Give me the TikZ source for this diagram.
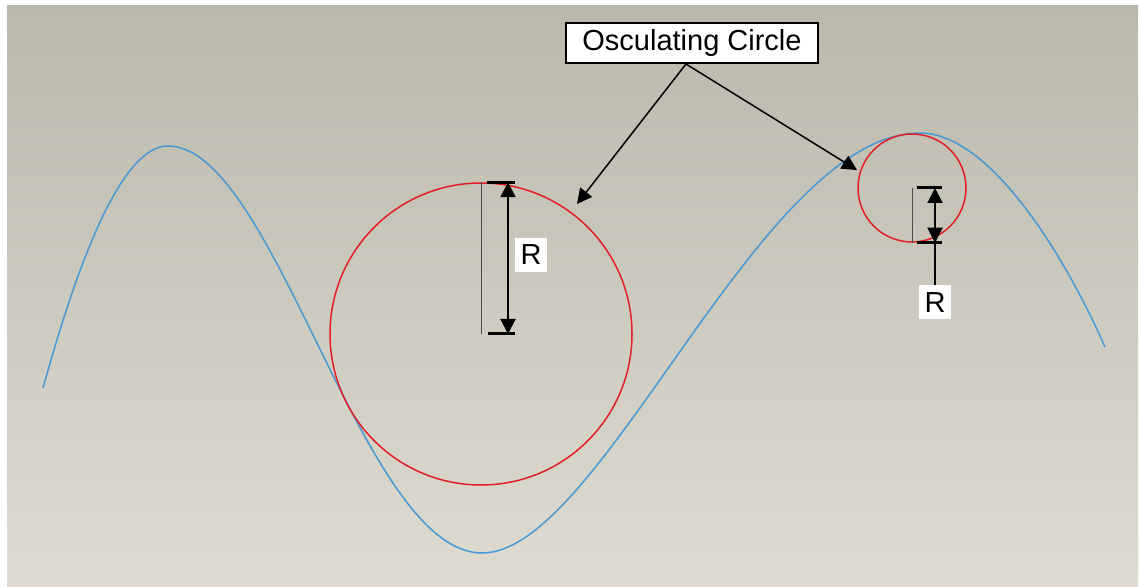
\documentclass[tikz,border=0pt]{standalone}
\usepackage{fontspec}
\setmainfont{Liberation Sans}
\usetikzlibrary{arrows.meta}
\usetikzlibrary{positioning}

\definecolor{curveblue}{RGB}{72,152,212}
\definecolor{circred}{RGB}{226,30,40}
\definecolor{bgtop}{RGB}{186,183,171}
\definecolor{bgbot}{RGB}{222,220,209}

\begin{document}
\begin{tikzpicture}[x=0.5pt, y=-0.5pt, font=\fontsize{14.5}{17}\selectfont,
    curve/.style={curveblue, line width=0.75pt},
    osc/.style={circle, draw=circred, line width=0.75pt, inner sep=0pt},
    tickmark/.style={line width=1.5pt},
    dimline/.style={line width=1pt, {Triangle[length=7.5pt,width=7.5pt]}-{Triangle[length=7.5pt,width=7.5pt]}},
    leader/.style={line width=0.75pt, -{Triangle[length=7.5pt,width=7.5pt]}},
    extline/.style={line width=0.4pt, black!70},
    rlabel/.style={fill=white, inner sep=0pt, minimum width=16pt, minimum height=17pt}]
      % Page and background
      \fill[white] (0,0) rectangle (1140,587);
      \useasboundingbox (0,0) rectangle (1140,587);
      \shade[top color=bgtop, bottom color=bgbot] (7,6) rectangle (1138,587);
      % The curve
      \draw[curve] (43,388) .. controls (73,280) and (118,146) .. (168,146)
        .. controls (275,146) and (362,553) .. (482,553)
        .. controls (602,553) and (760,133) .. (920,133)
        .. controls (990,133) and (1065,256) .. (1105,347);
      % Osculating circles
      \node[osc, minimum size=151pt] (big) at (481,334) {};
      \node[osc, minimum size=54pt] (small) at (912,188) {};
      % Big radius
      \draw[extline] (big.center) -- (big.north);
      \coordinate (btop) at ([xshift=13.5pt]big.north);
      \coordinate (bbot) at ([xshift=13.5pt]big.center);
      \draw[tickmark] ([xshift=-10.5pt]btop) -- ([xshift=3.5pt]btop);
      \draw[tickmark] ([xshift=-10pt]bbot) -- ([xshift=3.5pt]bbot);
      \draw[dimline] (bbot) -- (btop);
      \node[rlabel] (rbig) at (531,255) {R};
      % Small radius
      \draw[extline] (small.center) -- (small.south);
      \coordinate (stop) at ([xshift=11.5pt]small.center);
      \coordinate (sbot) at ([xshift=11.5pt]small.south);
      \draw[tickmark] ([xshift=-9pt]stop) -- ([xshift=3.5pt]stop);
      \draw[tickmark] ([xshift=-9pt]sbot) -- ([xshift=3.5pt]sbot);
      \draw[dimline] (sbot) -- (stop);
      \node[rlabel, below=21pt of sbot] (rsmall) {R};
      \draw[line width=0.75pt] (sbot) -- (rsmall);
      % Label and leaders
      \node[draw, fill=white, line width=1pt, minimum width=126pt, minimum height=20pt, inner sep=0pt] (label) at (692,43) {Osculating Circle};
      \coordinate (lead) at ([xshift=-3pt]label.south);
      \coordinate (tipa) at (577,204);
      \coordinate (tipb) at (857,170);
      \draw[leader] (lead) -- (tipa);
      \draw[leader] (lead) -- (tipb);
\end{tikzpicture}
\end{document}
